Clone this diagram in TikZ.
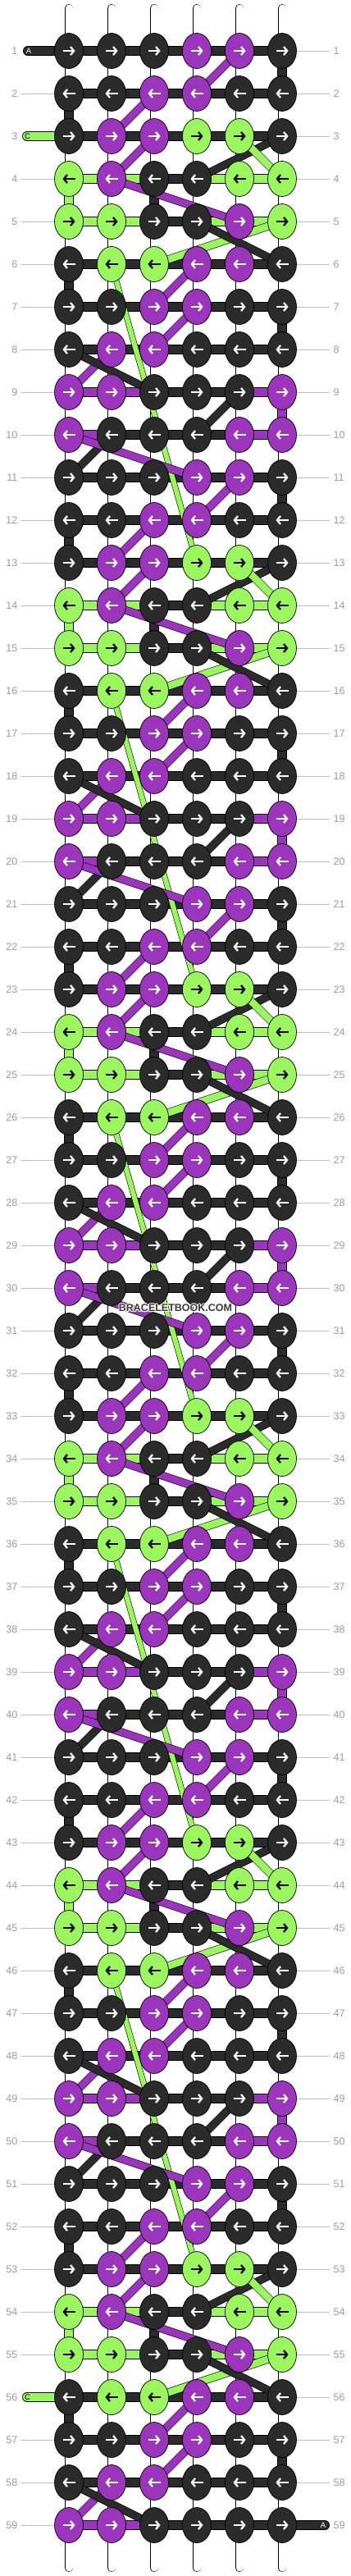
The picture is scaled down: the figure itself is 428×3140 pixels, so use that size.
\documentclass[tikz,border=0pt]{standalone}
\usepackage{fontspec}
\setmainfont{Liberation Sans}
\usepackage[copies]{contour}
\usetikzlibrary{arrows.meta,shapes.geometric}

\definecolor{knotB}{HTML}{2B2B2B}
\definecolor{knotP}{HTML}{9A35BC}
\definecolor{knotG}{HTML}{9AF55F}
\colorlet{arrowB}{white}
\colorlet{arrowP}{white}
\colorlet{arrowG}{black}
\definecolor{labelgrey}{HTML}{9A9A9A}
\definecolor{guidegrey}{HTML}{BDBDBD}
\definecolor{brandgrey}{HTML}{3A3A3A}
\contourlength{0.9pt}

% knot colours of the ten-row repeat
\newcommand{\knotrow}[1]{\ifcase#1\or
  B,B,B,P,P,B\or B,B,P,P,B,B\or B,P,P,G,G,B\or G,P,B,B,G,G\or G,G,B,B,P,G\or
  B,G,G,P,P,B\or B,B,P,P,B,B\or B,P,P,B,B,B\or P,P,B,B,B,P\or P,B,B,B,P,P\fi}
% threads between neighbouring knots of a row
\newcommand{\barrow}[1]{\ifcase#1\or
  B,B,B,B,B\or B,B,B,B,B\or B,B,B,B,B\or G,G,B,G,G\or G,G,B,G,G\or
  B,B,B,B,B\or B,B,B,B,B\or B,B,B,B,B\or P,P,B,B,P\or P,B,B,B,P\fi}
% strands down to the next row (W = white warp)
\newcommand{\downrow}[1]{\ifcase#1\or
  W,W,W,W,W,B\or B,W,W,W,W,W\or W,W,W,W,W,W\or G,W,B,W,W,W\or W,W,W,W,W,W\or
  B,W,W,W,W,W\or W,W,W,W,W,B\or W,W,W,W,W,W\or W,W,W,W,W,P\or W,W,W,W,W,W\fi}
% carried threads to the next row: colour/from/to
\newcommand{\crossrow}[1]{\ifcase#1\or
  P/5/4\or P/3/2\or P/3/2,B/6/4,G/5/6\or P/2/5\or G/6/3,B/4/6\or
  P/4/3\or P/4/3\or P/2/1,B/1/3\or B/5/4\or B/2/1,P/1/4\fi}

\begin{document}
\begin{tikzpicture}[x=1pt,y=-1pt,
    warp/.style={draw=black,line width=0.6pt,double=white,double distance=9pt},
    bar/.style={draw=black,line width=0.6pt,double=#1,double distance=10.8pt},
    cross/.style={draw=black,line width=0.6pt,double=#1,double distance=8.6pt},
    longcross/.style={draw=black,line width=0.6pt,double=knotG,double distance=6pt},
    downW/.style={warp},
    downB/.style={bar=knotB},
    downP/.style={bar=knotP},
    downG/.style={bar=knotG},
    knot/.style={ellipse,draw=black,line width=0.7pt,fill=knot#1,
      minimum width=35pt,minimum height=43pt,inner sep=0pt},
    pointer/.style={draw=arrow#1,line width=2.3pt,
      -{Straight Barb[length=4pt,width=10pt]}},
    rowlabel/.style={text=labelgrey,font=\fontsize{12.5}{14}\selectfont,inner sep=0pt},
    guide/.style={draw=guidegrey,line width=0.8pt},
    pilltext/.style={font=\fontsize{9.5}{10}\selectfont,inner sep=0pt}]
  \useasboundingbox (0,0) rectangle (428,3140);

  % grid points
  \foreach \r in {1,...,59}
    \foreach \c in {1,...,6}
      \coordinate (p-\r-\c) at ({84+52*(\c-1)},{62+52*(\r-1)});
  \foreach \c in {1,...,6}{
    \coordinate (top-\c) at ({84+52*(\c-1)},10);
    \coordinate (bot-\c) at ({84+52*(\c-1)},3130);
    \draw[warp,line cap=round] (top-\c) -- (p-1-\c);
    \draw[warp,line cap=round] (p-59-\c) -- (bot-\c);
  }

  % strands between rows
  \foreach \r in {1,...,58}{
    \pgfmathtruncatemacro\k{mod(\r-1,10)+1}
    \pgfmathtruncatemacro\rr{\r+1}
    \edef\dlist{\downrow{\k}}
    \foreach \d [count=\c] in \dlist
      \draw[down\d] (p-\r-\c) -- (p-\rr-\c);
  }

  % threads along the rows
  \foreach \r in {1,...,58}{
    \pgfmathtruncatemacro\k{mod(\r-1,10)+1}
    \edef\blist{\barrow{\k}}
    \foreach \b [count=\c] in \blist{
      \pgfmathtruncatemacro\cc{\c+1}
      \draw[bar=knot\b] (p-\r-\c) -- (p-\r-\cc);
    }
  }
  \foreach \b [count=\c] in {P,P,B,B,B}{
    \pgfmathtruncatemacro\cc{\c+1}
    \draw[bar=knot\b] (p-59-\c) -- (p-59-\cc);
  }

  % thread ends
  \coordinate (a-in) at (34,62);
  \coordinate (c-in) at (33,166);
  \coordinate (c-out) at (33,2922);
  \coordinate (a-out) at (396,3078);
  \draw[bar=knotB,line cap=round] (a-in) -- (p-1-1);
  \draw[bar=knotG,line cap=round] (c-in) -- (p-3-1);
  \draw[bar=knotG,line cap=round] (c-out) -- (p-56-1);
  \draw[bar=knotB,line cap=round] (p-59-6) -- (a-out);
  \node[pilltext,text=white] (a-in-label) at (35,62) {A};
  \node[pilltext,text=black] (c-in-label) at (33.5,166) {C};
  \node[pilltext,text=black] (c-out-label) at (33.5,2922) {C};
  \node[pilltext,text=white] (a-out-label) at (394,3078) {A};

  % guide lines to the row numbers
  \foreach \r in {2,4,5,...,55,57,58,59}{
    \coordinate (gl-\r) at (26,{62+52*(\r-1)});
    \draw[guide] (gl-\r) -- (p-\r-1);
  }
  \foreach \r in {1,...,58}{
    \coordinate (gr-\r) at (402,{62+52*(\r-1)});
    \draw[guide] (p-\r-6) -- (gr-\r);
  }

  % long green runs
  \foreach \r in {6,16,26,36,46}{
    \pgfmathtruncatemacro\rr{\r+7}
    \draw[longcross] (p-\r-2) -- (p-\rr-4);
  }

  % carried threads
  \foreach \r in {1,...,58}{
    \pgfmathtruncatemacro\k{mod(\r-1,10)+1}
    \pgfmathtruncatemacro\rr{\r+1}
    \edef\xlist{\crossrow{\k}}
    \foreach \xc/\xa/\xb in \xlist
      \draw[cross=knot\xc] (p-\r-\xa) -- (p-\rr-\xb);
  }

  % knots
  \foreach \r in {1,...,58}{
    \pgfmathtruncatemacro\k{mod(\r-1,10)+1}
    \edef\klist{\knotrow{\k}}
    \foreach \n [count=\c] in \klist{
      \node[knot=\n] (k-\r-\c) at (p-\r-\c) {};
      \ifodd\r
        \draw[pointer=\n] ([xshift=-7.5pt]k-\r-\c.center) -- ([xshift=7.5pt]k-\r-\c.center);
      \else
        \draw[pointer=\n] ([xshift=7.5pt]k-\r-\c.center) -- ([xshift=-7.5pt]k-\r-\c.center);
      \fi
    }
  }
  \foreach \n [count=\c] in {P,P,B,B,B,B}{
    \node[knot=\n] (k-59-\c) at (p-59-\c) {};
    \draw[pointer=\n] ([xshift=-7.5pt]k-59-\c.center) -- ([xshift=7.5pt]k-59-\c.center);
  }

  % row numbers
  \foreach \r in {1,...,59}{
    \node[rowlabel,anchor=east] (ll-\r) at (21.5,{62+52*(\r-1)}) {\r};
    \node[rowlabel,anchor=west] (rl-\r) at (406.5,{62+52*(\r-1)}) {\r};
  }

  \node[font=\bfseries\fontsize{12.5}{14}\selectfont,text=brandgrey,inner sep=0pt]
    (brand) at (214,1595) {\contour{white}{BRACELETBOOK.COM}};
\end{tikzpicture}
\end{document}
